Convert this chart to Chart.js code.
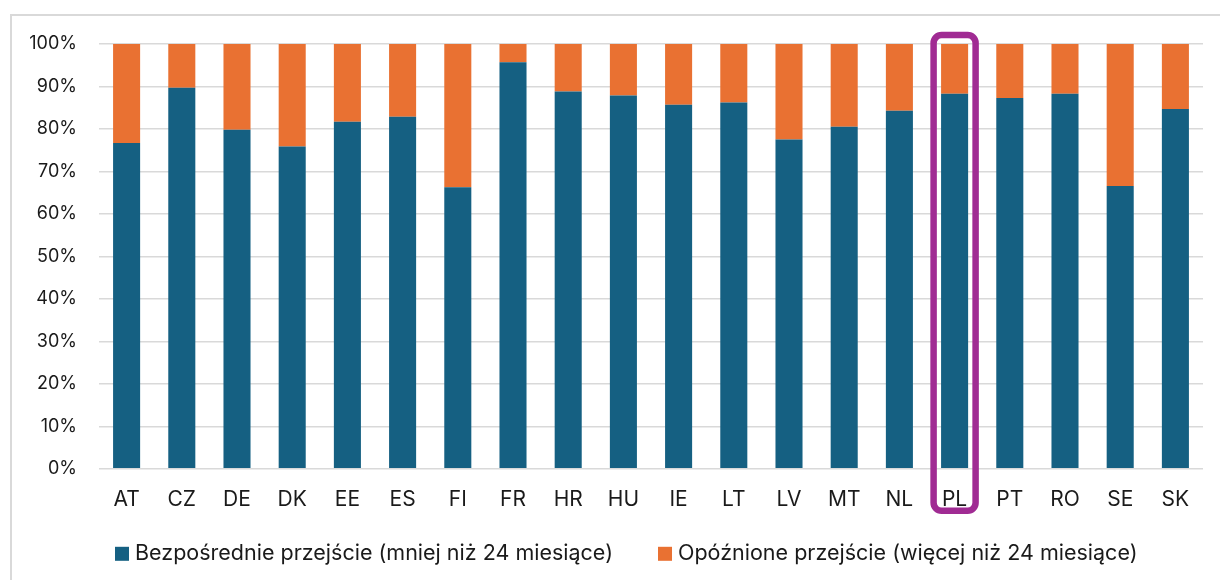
<!DOCTYPE html>
<html>
<head>
<meta charset="utf-8">
<script src="https://cdn.jsdelivr.net/npm/chart.js@4/dist/chart.umd.min.js"></script>
<style>
    html, body { margin: 0; padding: 0; background: #ffffff; }
    #frame { position: absolute; left: 10px; top: 14px; width: 1230px; height: 600px; border: 2px solid #d9d9d9; box-sizing: border-box; }
    #wrap { position: absolute; left: 0; top: 0; width: 1220px; height: 580px; }
</style>
</head>
<body>
<div id="frame"></div>
<div id="wrap"><canvas id="chart1"></canvas></div>
<script>
/* ---------------------------------------------------------------------------------------- */
/* DATA                                                                                     */
/* ---------------------------------------------------------------------------------------- */

    var countries = ['AT','CZ','DE','DK','EE','ES','FI','FR','HR','HU','IE','LT','LV','MT','NL','PL','PT','RO','SE','SK'];

    // share of transitions, percent
    var direct  = [76.7, 89.7, 79.8, 75.9, 81.7, 82.9, 66.3, 95.7, 88.8, 87.9, 85.7, 86.2, 77.5, 80.5, 84.3, 88.3, 87.3, 88.3, 66.6, 84.7];
    var delayed = [23.3, 10.3, 20.2, 24.1, 18.3, 17.1, 33.7,  4.3, 11.2, 12.1, 14.3, 13.8, 22.5, 19.5, 15.7, 11.7, 12.7, 11.7, 33.4, 15.3];

    var labelDirect  = 'Bezpośrednie przejście (mniej niż 24 miesiące)';
    var labelDelayed = 'Opóźnione przejście (więcej niż 24 miesiące)';

    var highlight = 'PL';

    var FONT = 'Inter, "Liberation Sans", Arial, sans-serif';

/* ---------------------------------------------------------------------------------------- */
/* HIGHLIGHT BOX PLUGIN                                                                     */
/* ---------------------------------------------------------------------------------------- */

    var highlightBox = {
        id: 'highlightBox',
        afterDraw: function(chart){
            var xs = chart.scales.x;
            var area = chart.chartArea;
            var cx = xs.getPixelForValue(countries.indexOf(highlight));
            var w = 42, r = 8;
            var x0 = cx - w/2, x1 = cx + w/2;
            var y0 = area.top - 9, y1 = area.bottom + 42;
            var ctx = chart.ctx;
            ctx.save();
            ctx.strokeStyle = '#A02B93';
            ctx.lineWidth = 6.5;
            ctx.beginPath();
            ctx.moveTo(x0 + r, y0);
            ctx.arcTo(x1, y0, x1, y1, r);
            ctx.arcTo(x1, y1, x0, y1, r);
            ctx.arcTo(x0, y1, x0, y0, r);
            ctx.arcTo(x0, y0, x1, y0, r);
            ctx.closePath();
            ctx.stroke();
            ctx.restore();
        }
    };

/* ---------------------------------------------------------------------------------------- */
/* LEGEND PLUGIN (excel style: small gap box->text, wide gap between items)                 */
/* ---------------------------------------------------------------------------------------- */

    var bottomLegend = {
        id: 'bottomLegend',
        afterDraw: function(chart){
            var ctx = chart.ctx;
            var area = chart.chartArea;
            var y = area.bottom + 85;
            var x = area.left + 16;
            ctx.save();
            ctx.font = '21.5px ' + FONT;
            ctx.textBaseline = 'middle';
            ctx.textAlign = 'left';
            chart.data.datasets.forEach(function(ds){
                ctx.fillStyle = ds.backgroundColor;
                ctx.fillRect(x, y - 7, 14, 14);
                ctx.fillStyle = '#1a1a1a';
                ctx.fillText(ds.label, x + 20, y);
                x += 20 + ctx.measureText(ds.label).width + 45;
            });
            ctx.restore();
        }
    };

/* ---------------------------------------------------------------------------------------- */
/* CHART                                                                                    */
/* ---------------------------------------------------------------------------------------- */

    Chart.defaults.font.family = FONT;
    Chart.defaults.font.size = 19;
    Chart.defaults.color = '#1a1a1a';

    var ctx = document.getElementById('chart1').getContext('2d');
    var chart1 = new Chart(ctx, {
        type: 'bar',
        data: {
            labels: countries,
            datasets: [{
                label: labelDirect,
                data: direct,
                backgroundColor: '#156082',
                borderWidth: 0
            },{
                label: labelDelayed,
                data: delayed,
                backgroundColor: '#E97132',
                borderWidth: 0
            }]
        },
        options: {
            responsive: true,
            maintainAspectRatio: false,
            animation: false,
            categoryPercentage: 1,
            barPercentage: 0.49,
            layout: { padding: { left: 28, right: 17, top: 44, bottom: 50 } },
            scales: {
                x: {
                    stacked: true,
                    grid: { display: false, drawTicks: false },
                    border: { display: false },
                    ticks: { padding: 18, font: { size: 21 } }
                },
                y: {
                    stacked: true,
                    min: 0,
                    max: 100,
                    grid: { color: '#d9d9d9', lineWidth: 1.5, drawTicks: false },
                    border: { display: false },
                    ticks: {
                        stepSize: 10,
                        padding: 22,
                        font: { size: 18 },
                        callback: function(v){ return v + '%'; }
                    },
                    afterFit: function(s){ s.width = 71; }
                }
            },
            plugins: {
                legend: { display: false },
                tooltip: { enabled: false }
            }
        },
        plugins: [highlightBox, bottomLegend]
    });
</script>
</body>
</html>
